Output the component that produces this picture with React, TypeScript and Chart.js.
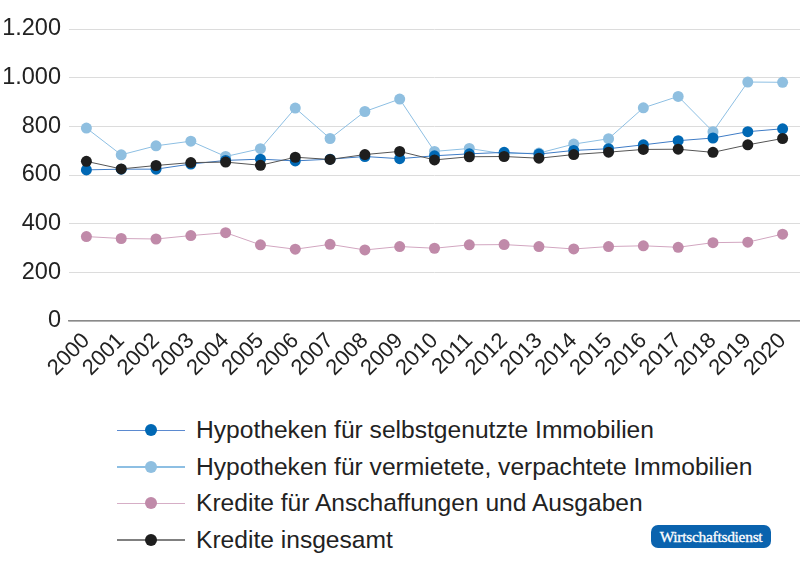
import React, { useEffect, useRef } from "react";
import { Chart, registerables } from "chart.js";

Chart.register(...registerables);

const years = ["2000","2001","2002","2003","2004","2005","2006","2007","2008","2009","2010","2011","2012","2013","2014","2015","2016","2017","2018","2019","2020"];
const selbstgenutzt = [621,624,624,645,660,665,658,665,676,667,679,687,693,686,701,708,724,741,752,778,790];
const vermietet = [793,683,720,739,676,708,875,750,861,912,697,709,687,690,727,749,876,923,778,982,981];
const anschaffungen = [347,339,337,351,363,313,295,315,292,306,299,313,314,306,296,306,309,303,322,324,357];
const insgesamt = [656,625,639,651,653,640,673,664,684,697,662,675,676,669,684,694,705,706,693,724,750];
const yTicks = [0, 200, 400, 600, 800, 1000, 1200];

const seriesNames = [
  "Hypotheken für selbstgenutzte Immobilien",
  "Hypotheken für vermietete, verpachtete Immobilien",
  "Kredite für Anschaffungen und Ausgaben",
  "Kredite insgesamt",
];
const dotColors = ["#0068b4", "#8fbfe0", "#c08aa9", "#1e1e1e"];
const lineColors = ["#3f7cc6", "#8dbfe3", "#d2a6c0", "#555555"];
const legendLineColors = ["#5b8ad0", "#8dbfe3", "#d6aec6", "#808080"];

const FONT = "'Liberation Sans', Arial, sans-serif";

function formatDE(v: number): string {
  if (v >= 1000) {
    return Math.floor(v / 1000) + "." + String(v % 1000).padStart(3, "0");
  }
  return String(v);
}

function zeroPadding(scale: any) {
  scale.paddingLeft = 0;
  scale.paddingRight = 0;
  scale.paddingTop = 0;
  scale.paddingBottom = 0;
}

export default function App() {
  const canvasRef = useRef<HTMLCanvasElement | null>(null);

  useEffect(() => {
    if (!canvasRef.current) return;
    const dataSets = [selbstgenutzt, vermietet, anschaffungen, insgesamt];
    const orders = [1, 2, 3, 0];
    const chart = new Chart(canvasRef.current, {
      type: "line",
      data: {
        labels: years,
        datasets: dataSets.map((d, i) => ({
          label: seriesNames[i],
          data: d,
          borderColor: lineColors[i],
          backgroundColor: dotColors[i],
          borderWidth: 1,
          pointRadius: 5.5,
          pointBorderWidth: 0,
          pointBackgroundColor: dotColors[i],
          pointBorderColor: dotColors[i],
          tension: 0,
          order: orders[i],
          clip: false,
        })),
      },
      options: {
        animation: false,
        responsive: false,
        maintainAspectRatio: false,
        layout: { autoPadding: false, padding: { top: 29, right: 0, left: 0, bottom: 0 } },
        plugins: {
          legend: { display: false },
          tooltip: { enabled: false },
        },
        scales: {
          x: {
            offset: true,
            grid: { display: false, drawTicks: false },
            border: { display: true, color: "#8a8a8a", width: 1.5 },
            ticks: {
              color: "#222",
              font: { family: FONT, size: 22 },
              maxRotation: 45,
              minRotation: 45,
              autoSkip: false,
              padding: 7,
            },
            afterFit: (scale: any) => {
              scale.height = 69;
              zeroPadding(scale);
            },
          },
          y: {
            min: 0,
            max: 1200,
            afterBuildTicks: (scale: any) => {
              scale.ticks = yTicks.map((v) => ({ value: v }));
            },
            grid: { color: "#dcdcdc", lineWidth: 1, drawTicks: false },
            border: { display: false },
            ticks: {
              color: "#222",
              font: { family: FONT, size: 23.5 },
              padding: 8,
              callback: (v: any) => formatDE(Number(v)),
            },
            afterFit: (scale: any) => {
              scale.width = 69;
              zeroPadding(scale);
            },
          },
        },
      },
    } as any);
    return () => chart.destroy();
  }, []);

  return (
    <div style={{ position: "absolute", left: 0, top: 0, width: 800, height: 572, background: "#fff", overflow: "hidden" }}>
      <canvas
        ref={canvasRef}
        width={800}
        height={390}
        style={{ position: "absolute", left: 0, top: 0, width: 800, height: 390 }}
      />
      {seriesNames.map((name, i) => (
        <div
          key={name}
          style={{
            position: "absolute",
            left: 117,
            top: 430 + i * 36.5 - 16,
            height: 32,
            display: "flex",
            alignItems: "center",
            fontFamily: FONT,
            fontSize: 24.6,
            color: "#222",
            whiteSpace: "nowrap",
          }}
        >
          <div style={{ position: "relative", width: 68, height: 32, marginRight: 11 }}>
            <div style={{ position: "absolute", left: 0, top: 15.5, width: 68, height: 1.5, background: legendLineColors[i] }} />
            <div
              style={{
                position: "absolute",
                left: 34 - 6,
                top: 16 - 6,
                width: 12,
                height: 12,
                borderRadius: "50%",
                background: dotColors[i],
              }}
            />
          </div>
          <span>{name}</span>
        </div>
      ))}
      <div
        style={{
          position: "absolute",
          left: 651,
          top: 525,
          width: 120,
          height: 23,
          borderRadius: 7,
          background: "#0a63ae",
          color: "#fff",
          fontFamily: "'Liberation Serif', 'DejaVu Serif', serif",
          fontSize: 15.5,
          fontWeight: 400,
          display: "flex",
          alignItems: "center",
          justifyContent: "center",
          letterSpacing: -0.3,
          WebkitTextStroke: "0.3px #fff",
        }}
      >
        Wirtschaftsdienst
      </div>
    </div>
  );
}
